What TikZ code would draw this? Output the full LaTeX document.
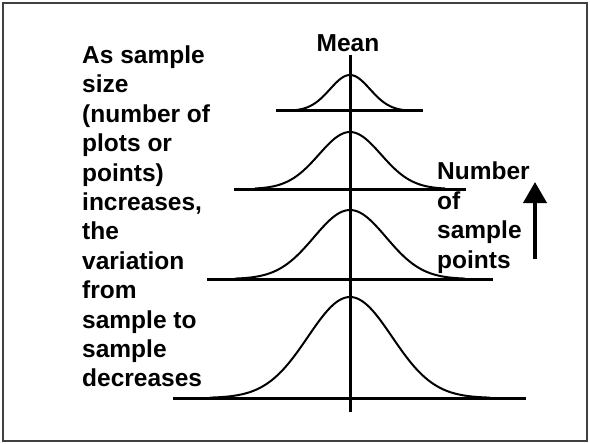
\documentclass[tikz,border=0pt]{standalone}
\usepackage{fontspec}
\setmainfont{Liberation Sans}
\usetikzlibrary{arrows.meta}

\begin{document}
\begin{tikzpicture}[x=1pt,y=-1pt,
    txt/.style={inner sep=0pt,align=left,font=\fontsize{24.5}{29.4}\selectfont\bfseries},
    axis/.style={line width=3pt},
    bell/.style={line width=2pt,line join=round},
    arrow/.style={-{Triangle[length=21pt,width=23pt]},line width=4pt}]
  \useasboundingbox (0,0) rectangle (590,444);
  \draw[line width=1.5pt,black!75] (3,3) rectangle (587,441);
  % labels
  \node[txt] (mean) at (348,43) {Mean};
  \node[txt,anchor=north west] (story) at (82,45.5)
    {As sample\\size\\(number of\\plots or\\points)\\increases,\\the\\variation\\from\\sample to\\sample\\decreases};
  \node[txt,anchor=north west] (count) at (437,162) {Number\\of\\sample\\points};
  % mean axis
  \coordinate (meantop) at (350,55);
  \coordinate (meanbot) at (350,412);
  \draw[axis] (meantop) -- (meanbot);
  % sampling distributions, narrow to wide
  \foreach \yb/\xa/\xb/\h/\s/\w in {111/276/423/36/20/55, 189/234/466/57/31/95,
      279/207/493/69/36/115, 398/173/526/101/42/140}{
    \draw[axis] (\xa,\yb) -- (\xb,\yb);
    \draw[bell] plot[domain=-\w:\w,samples=80,smooth]
      ({350+\x},{\yb-\h*exp(-0.5*(\x/\s)*(\x/\s))});
  }
  % more points upward
  \coordinate (arrlow) at (535,259);
  \coordinate (arrtip) at (535,182);
  \draw[arrow] (arrlow) -- (arrtip);
\end{tikzpicture}
\end{document}
